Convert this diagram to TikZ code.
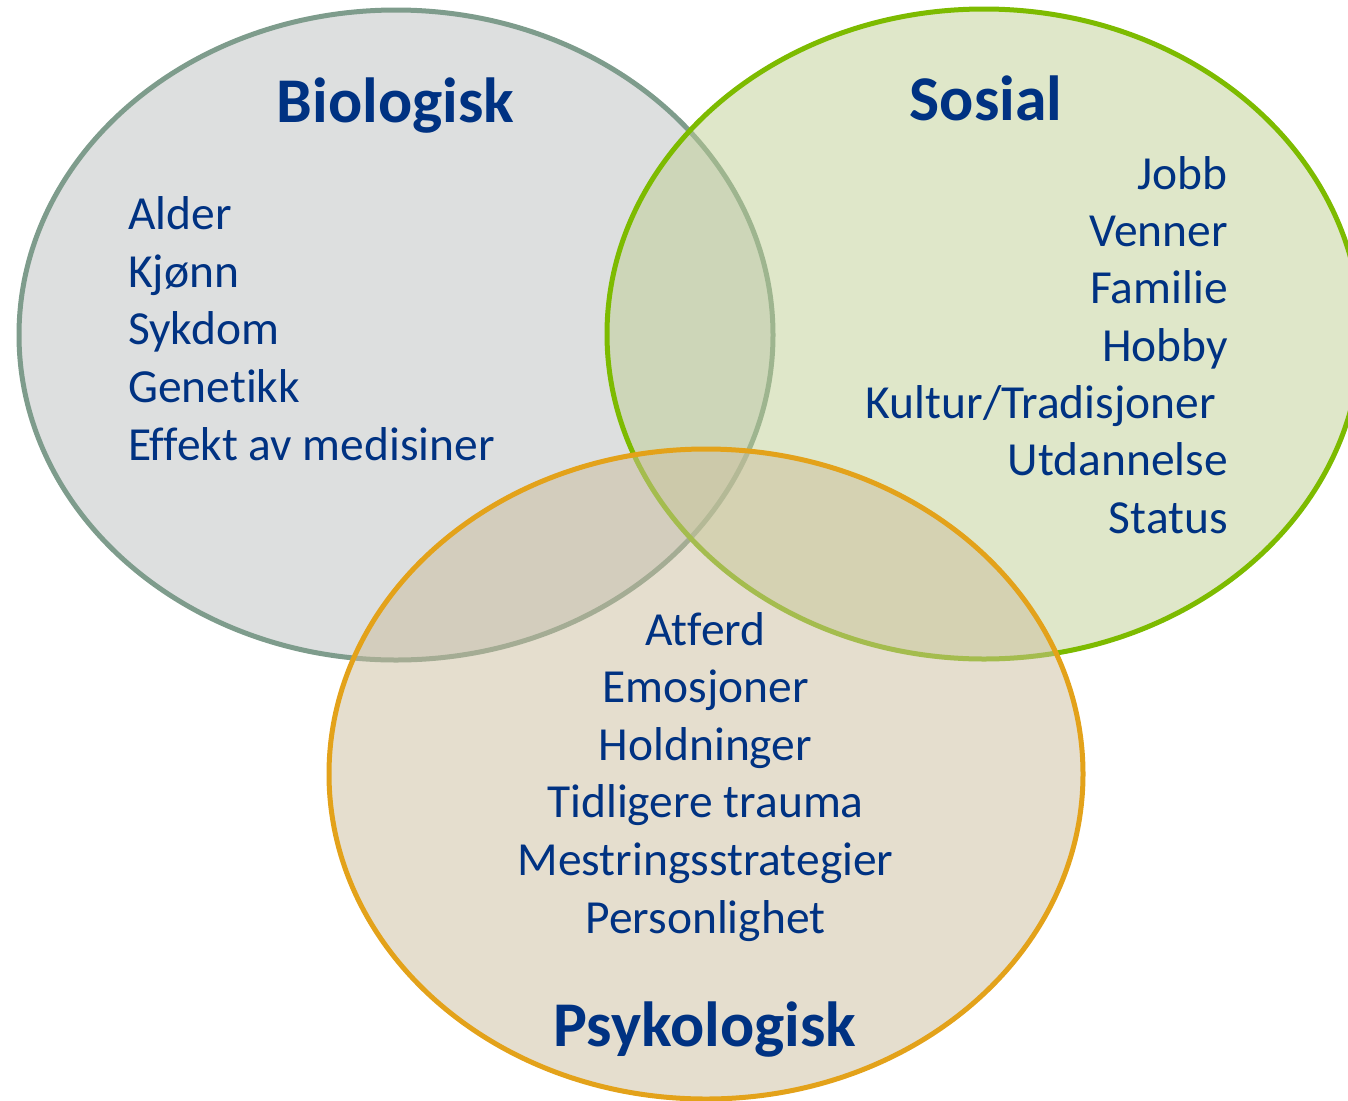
\documentclass[tikz,border=0pt]{standalone}
\usepackage{fontspec}
\setmainfont{Carlito}[Ligatures=NoCommon]
\usetikzlibrary{calc}

\definecolor{txtBlue}{RGB}{0,50,130}
\definecolor{bioFill}{HTML}{BBBFBF}
\definecolor{bioLine}{HTML}{7E9C8C}
\definecolor{sosFill}{HTML}{BFCF93}
\definecolor{sosLine}{HTML}{7DBB00}
\definecolor{psyFill}{HTML}{CBBD9D}
\definecolor{psyLine}{HTML}{E3A21A}

\tikzset{
  set/.style={line width=3.75pt, fill opacity=0.5},
  item/.style={text=txtBlue, inner sep=0pt, font=\fontsize{35.6}{43}\selectfont},
  title/.style={text=txtBlue, inner sep=0pt, font=\fontsize{47.8}{56}\selectfont\bfseries}
}

\begin{document}
\begin{tikzpicture}[x=0.75pt, y=-0.75pt]
\useasboundingbox (0,0) rectangle (1348,1100);
\clip (0,0) rectangle (1348,1100);

\newcommand\drawSet[3]{\filldraw[set, fill=#2, draw=#3] (#1) ellipse [x radius=377, y radius=325]}

% the three sets
\drawSet{396,335}{bioFill}{bioLine};
\drawSet{984,334}{sosFill}{sosLine};
\drawSet{706,774}{psyFill}{psyLine};

% titles
\node[title, anchor=base] (biotitle) at (395.5,122.7) {Biologisk};
\node[title, anchor=base] (sostitle) at (986,120) {Sosial};
\node[title, anchor=base] (psytitle) at (705,1046.7) {Psykologisk};

% factors
\foreach \t [count=\i] in {Alder, Kjønn, Sykdom, Genetikk, Effekt av medisiner}
  \node[item, anchor=base west] (bio\i) at (128,{229.3+57.7*(\i-1)}) {\t};

\foreach \t [count=\i] in {Jobb, Venner, Familie, Hobby, {Kultur/Tradisjoner\hspace*{9pt}}, Utdannelse, Status}
  \node[item, anchor=base east] (sos\i) at (1228,{189.3+57.3*(\i-1)}) {\t};

\foreach \t [count=\i] in {Atferd, Emosjoner, Holdninger, Tidligere trauma, Mestringsstrategier, Personlighet}
  \node[item, anchor=base] (psy\i) at (705.5,{645+57.6*(\i-1)}) {\t};
\end{tikzpicture}
\end{document}
